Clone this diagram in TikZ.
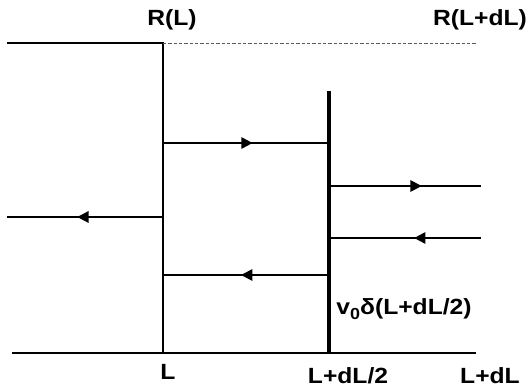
\documentclass[tikz,border=0pt]{standalone}
\usepackage{fontspec}
\setmainfont{Liberation Sans}[FakeStretch=1.12]
\usetikzlibrary{arrows.meta,decorations.markings}

\begin{document}
\begin{tikzpicture}[
    x=0.75pt, y=-0.75pt,
    every node/.style={align=center, inner sep=0pt, font=\bfseries\fontsize{16.5}{20}\selectfont},
    wire/.style={line width=1.5pt},
    barrier/.style={line width=2.6pt},
    level/.style={line width=0.6pt, dashed, dash pattern=on 2.5pt off 1.5pt, gray!70!black},
    midarrow/.style={decoration={markings, mark=at position #1 with {\arrow{Triangle[length=8.5pt,width=8.5pt]}}}, postaction={decorate}}
]
\useasboundingbox (0,0) rectangle (531,388);

% Nodes
\coordinate (w0) at (7,43);
\coordinate (wL) at (163,43);
\coordinate (wR) at (477,43);
\coordinate (a0) at (12,353);
\coordinate (aL) at (163,353);
\coordinate (aM) at (329,353);
\coordinate (aR) at (476,353);
\coordinate (mTop) at (329,91);
\coordinate (in1) at (163,143);
\coordinate (mid1) at (329,143);
\coordinate (out1) at (481,186);
\coordinate (mid2) at (329,186);
\coordinate (out2) at (481,238);
\coordinate (mid3) at (329,238);
\coordinate (left0) at (7,217);
\coordinate (left1) at (163,217);
\coordinate (in2) at (163,275);
\coordinate (mid4) at (329,275);

\node (rL) at (172,20) {R(L)};
\node (rLdL) at (480,20) {R(L+dL)};
\node (xL) at (168,372) {L};
\node (xHalf) at (348,376) {L+dL/2};
\node (xFull) at (490,376) {L+dL};
\node (pot) at (404,309) {v\raisebox{-4pt}{\fontsize{12}{12}\selectfont 0}δ(L+dL/2)};

% Lines
\draw[wire] (w0) -- (wL) -- (aL);
\draw[level] (wL) -- (wR);
\draw[wire] (a0) -- (aR);
\draw[barrier] (mTop) -- (aM);

% Arrows
\draw[wire, midarrow=0.54] (in1) -- (mid1);
\draw[wire, midarrow=0.53] (mid4) -- (in2);
\draw[wire, midarrow=0.61] (mid2) -- (out1);
\draw[wire, midarrow=0.44] (out2) -- (mid3);
\draw[wire, midarrow=0.55] (left1) -- (left0);

\end{tikzpicture}
\end{document}
